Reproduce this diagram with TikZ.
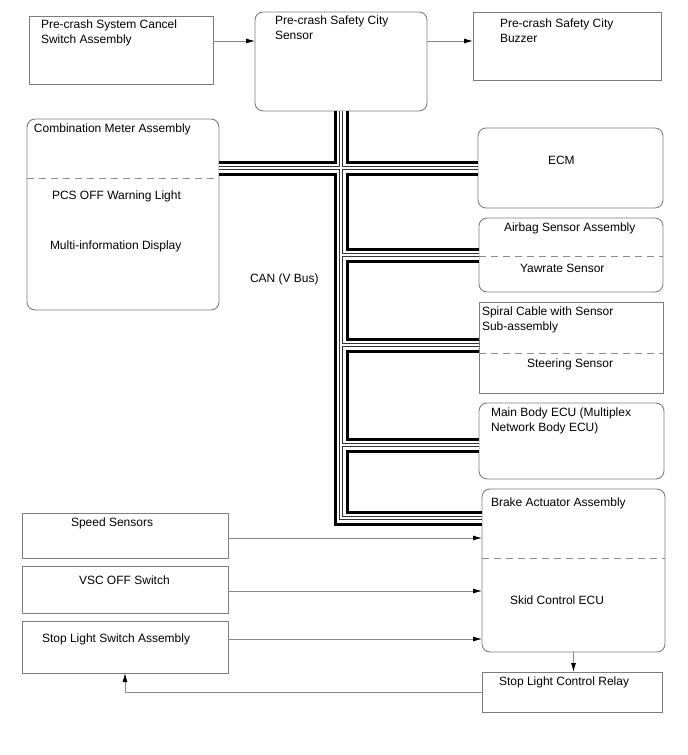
\documentclass[tikz,border=0pt]{standalone}
\usepackage{fontspec}
\setmainfont{Liberation Sans}
\usetikzlibrary{arrows.meta,calc}
\definecolor{boxgray}{RGB}{125,125,125}
\definecolor{arrowgray}{RGB}{135,135,135}
\definecolor{dashgray}{RGB}{140,140,140}
\begin{document}
\begin{tikzpicture}[x=1pt,y=-1pt,
  every node/.style={inner sep=0pt,outer sep=0pt},
  sqbox/.style={draw=boxgray,line width=0.9pt,anchor=north west,fill=white},
  rdbox/.style={sqbox,rounded corners=8pt},
  lbl/.style={font=\fontsize{12}{15}\selectfont,anchor=north west,align=left},
  divider/.style={draw=dashgray,line width=0.9pt,dash pattern=on 7pt off 5pt},
  arr/.style={draw=arrowgray,line width=0.8pt,-{Latex[length=9pt,width=5pt,color=black]}}
]
\useasboundingbox (0,0) rectangle (688,755);

% boxes
\node[sqbox,minimum width=184pt,minimum height=68pt] (cancel) at (29,16) {};
\node[rdbox,minimum width=172pt,minimum height=99pt] (sensor) at (255,12) {};
\node[sqbox,minimum width=188pt,minimum height=68pt] (buzzer) at (473,12) {};
\node[rdbox,minimum width=192pt,minimum height=191pt] (meter) at (27,119) {};
\node[rdbox,minimum width=185pt,minimum height=80pt] (ecm) at (478,128) {};
\node[rdbox,minimum width=184pt,minimum height=74pt] (airbag) at (479,218) {};
\node[sqbox,minimum width=184pt,minimum height=91pt] (spiral) at (479,302) {};
\node[rdbox,minimum width=185pt,minimum height=76pt] (mainbody) at (479,403) {};
\node[rdbox,minimum width=183pt,minimum height=163pt] (brake) at (482,489) {};
\node[sqbox,minimum width=180pt,minimum height=40pt] (relay) at (482,672) {};
\node[sqbox,minimum width=206pt,minimum height=45pt] (speed) at (22,513) {};
\node[sqbox,minimum width=206pt,minimum height=47pt] (vsc) at (22,566) {};
\node[sqbox,minimum width=206pt,minimum height=52pt] (stopsw) at (22,621) {};

% CAN bus
\coordinate (brakeIn) at ($(brake.north west)+(0,29)$);
\coordinate (spiralIn) at ($(spiral.north west)+(0,43)$);
\coordinate (mainIn) at ($(mainbody.north west)+(0,42)$);
\coordinate (busBot) at (sensor.south |- brakeIn);
\foreach \lw/\col in {15/black,9/white,4.2/black!80,1.4/white}{
  \draw[line width=\lw pt,draw=\col,line join=miter]
    (sensor.south) -- (busBot) -- (brakeIn)
    (meter.east |- ecm.west) -- (ecm.west)
    (sensor.south |- airbag.west) -- (airbag.west)
    (sensor.south |- spiralIn) -- (spiralIn)
    (sensor.south |- mainIn) -- (mainIn);
}

% dividers
\draw[divider] (meter.west |- 0,178) -- (meter.east |- 0,178);
\draw[divider] (airbag.west |- 0,256) -- (airbag.east |- 0,256);
\draw[divider] (spiral.west |- 0,353) -- (spiral.east |- 0,353);
\draw[divider] (brake.west |- 0,558) -- (brake.east |- 0,558);

% labels
\node[lbl] (tcancel) at (41,19.5) {Pre-crash System Cancel\\Switch Assembly};
\node[lbl] (tsensor) at (275,15.7) {Pre-crash Safety City\\Sensor};
\node[lbl] (tbuzzer) at (500,19) {Pre-crash Safety City\\Buzzer};
\node[lbl] (tmeter) at (34,123.7) {Combination Meter Assembly};
\node[lbl] (tpcs) at (52,190.7) {PCS OFF Warning Light};
\node[lbl] (tmid) at (50,240.7) {Multi-information Display};
\node[lbl] (tcan) at (250,273.7) {CAN (V Bus)};
\node[lbl] (tecm) at (548,155.7) {ECM};
\node[lbl] (tairbag) at (504,222.7) {Airbag Sensor Assembly};
\node[lbl] (tyaw) at (520,263.7) {Yawrate Sensor};
\node[lbl] (tspiral) at (482,306.7) {Spiral Cable with Sensor\\Sub-assembly};
\node[lbl] (tsteer) at (527,358.7) {Steering Sensor};
\node[lbl] (tmain) at (491,407.7) {Main Body ECU (Multiplex\\Network Body ECU)};
\node[lbl] (tbrake) at (491,497.7) {Brake Actuator Assembly};
\node[lbl] (tskid) at (510,595.7) {Skid Control ECU};
\node[lbl] (trelay) at (499,676.7) {Stop Light Control Relay};
\node[lbl] (tspeed) at (71,517.7) {Speed Sensors};
\node[lbl] (tvsc) at (79,575.7) {VSC OFF Switch};
\node[lbl] (tstop) at (42,633.7) {Stop Light Switch Assembly};

% arrows
\draw[arr] (cancel.east |- 0,41) -- (sensor.west |- 0,41);
\draw[arr] (sensor.east |- 0,41) -- (buzzer.west |- 0,41);
\draw[arr] (speed.east |- 0,538) -- (brake.west |- 0,538);
\draw[arr] (vsc.east |- 0,591) -- (brake.west |- 0,591);
\draw[arr] (stopsw.east |- 0,639) -- (brake.west |- 0,639);
\draw[arr] (brake.south) -- (brake.south |- relay.north);
\draw[arr] (relay.west) -| (stopsw.south);
\end{tikzpicture}
\end{document}
